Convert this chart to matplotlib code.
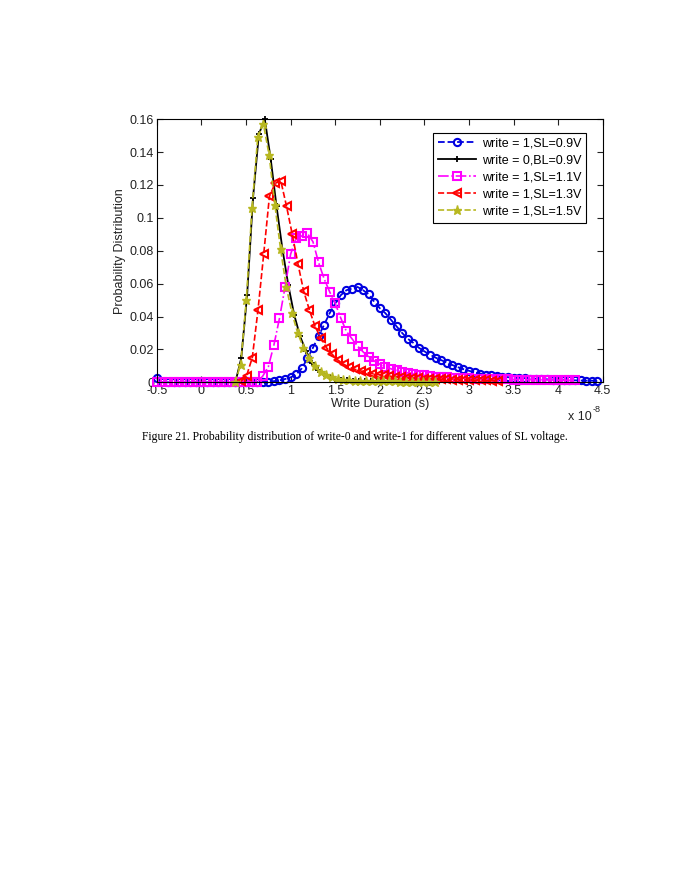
import numpy as np
import matplotlib
matplotlib.use("Agg")
from matplotlib import pyplot as plt
from matplotlib.ticker import FuncFormatter

plt.rcParams['font.family'] = ['Liberation Sans', 'DejaVu Sans']

# write duration grids (units of 1e-8 s): start, step
blue_x0, blue_dx = -0.5, 0.0625
mag_x0, mag_dx = -0.5, 0.0625
red_x0, red_dx = 0.442, 0.064
blk_x0, blk_dx = 0.38, 0.066
yel_x0, yel_dx = 0.375, 0.064

# write = 1, SL = 0.9V
blue_y = [0.0024] + [0.0] * 17 + [
    0.0001, 0.0002, 0.0004, 0.0007, 0.0012, 0.002, 0.003, 0.0048, 0.0085, 0.0145,
    0.021, 0.028, 0.035, 0.042, 0.048, 0.053, 0.056, 0.057, 0.058, 0.056,
    0.0535, 0.049, 0.045, 0.042, 0.038, 0.034, 0.030, 0.0265, 0.024, 0.021,
    0.0188, 0.0168, 0.015, 0.0135, 0.012, 0.0105, 0.0092, 0.008, 0.007, 0.006,
    0.0053, 0.0047, 0.0042, 0.0038, 0.0034, 0.0031, 0.0029, 0.0027, 0.0025, 0.0023,
    0.0021, 0.002, 0.0018, 0.0017, 0.0015, 0.0014, 0.0013, 0.0012, 0.0011, 0.001,
    0.001, 0.0009]

# write = 0, BL = 0.9V
blk_y = [0.0, 0.0146, 0.053, 0.112, 0.151, 0.160, 0.136, 0.107, 0.081, 0.059,
         0.041, 0.028, 0.019, 0.012, 0.0075, 0.0048, 0.0032, 0.0022, 0.0016, 0.0012,
         0.001, 0.0009, 0.0008, 0.0007, 0.0006, 0.0006, 0.0005, 0.0005, 0.0004, 0.0004,
         0.0004, 0.0003, 0.0003, 0.0003, 0.0003]

# write = 1, SL = 1.1V
mag_y = [0.0] * 19 + [
    0.0038, 0.0095, 0.0227, 0.039, 0.058, 0.078, 0.0876, 0.089, 0.0906, 0.0855,
    0.073, 0.063, 0.055, 0.048, 0.039, 0.031, 0.0265, 0.022, 0.0185, 0.0155,
    0.013, 0.011, 0.0095, 0.0082, 0.0072, 0.0064, 0.0057, 0.0051, 0.0046, 0.0042,
    0.0038, 0.0035, 0.0032, 0.003, 0.0028, 0.0026, 0.0025, 0.0024, 0.0023, 0.0022,
    0.0021, 0.002, 0.0019, 0.0018, 0.0018, 0.0017, 0.0017, 0.0016, 0.0016, 0.0015,
    0.0015, 0.0014, 0.0014, 0.0013, 0.0013, 0.0012, 0.0012]

# write = 1, SL = 1.3V
red_y = [0.0005, 0.004, 0.015, 0.044, 0.078, 0.113, 0.121, 0.1224, 0.107, 0.090,
         0.072, 0.0555, 0.044, 0.034, 0.027, 0.021, 0.017, 0.0135, 0.011, 0.0092,
         0.0079, 0.0069, 0.006, 0.0053, 0.0047, 0.0042, 0.0038, 0.0034, 0.0031, 0.0028,
         0.0026, 0.0024, 0.0022, 0.0021, 0.002, 0.0019, 0.0018, 0.0017, 0.0016, 0.0015,
         0.0014, 0.0013, 0.0012, 0.0011, 0.001, 0.001]

# write = 1, SL = 1.5V
yel_y = [0.0, 0.0105, 0.050, 0.106, 0.149, 0.157, 0.138, 0.108, 0.081, 0.058,
         0.042, 0.030, 0.021, 0.0145, 0.0098, 0.0065, 0.0044, 0.003, 0.0021, 0.0015,
         0.0012, 0.001, 0.0009, 0.0008, 0.0007, 0.0006, 0.0006, 0.0005, 0.0005, 0.0004,
         0.0004, 0.0004, 0.0003, 0.0003, 0.0003, 0.0003]

labels = ['write = 1,SL=0.9V', 'write = 0,BL=0.9V', 'write = 1,SL=1.1V',
          'write = 1,SL=1.3V', 'write = 1,SL=1.5V']
xticks = [-0.5, 0, 0.5, 1, 1.5, 2, 2.5, 3, 3.5, 4, 4.5]
yticks = [0, 0.02, 0.04, 0.06, 0.08, 0.1, 0.12, 0.14, 0.16]


def grid(x0, dx, ys):
    return x0 + dx * np.arange(len(ys))


fig = plt.figure(figsize=(6.85, 8.86), dpi=100)
ax = fig.add_axes([0.229, 0.5685, 0.651, 0.297])

ax.plot(grid(blue_x0, blue_dx, blue_y), blue_y, '--o', color='#0000e0', lw=1.3,
        ms=5.2, mfc='none', mew=1.5, label=labels[0], clip_on=False)
ax.plot(grid(blk_x0, blk_dx, blk_y), blk_y, '-+', color='black', lw=1.3,
        ms=5, mew=1.3, label=labels[1], clip_on=False)
ax.plot(grid(mag_x0, mag_dx, mag_y), mag_y, '-.s', color='#ff00ff', lw=1.2,
        ms=5.2, mfc='none', mew=1.5, label=labels[2], clip_on=False)
ax.plot(grid(red_x0, red_dx, red_y), red_y, '--<', color='#ff0000', lw=1.2,
        ms=6.2, mfc='none', mew=1.5, label=labels[3], clip_on=False)
ax.plot(grid(yel_x0, yel_dx, yel_y), yel_y, '--*', color='#b8b820', lw=1.2,
        ms=6.5, label=labels[4], clip_on=False)

ax.set_xlim(-0.5, 4.5)
ax.set_ylim(0, 0.16)
ax.set_xticks(xticks)
ax.set_yticks(yticks)
ax.xaxis.set_major_formatter(FuncFormatter(lambda v, p: '%g' % v))
ax.yaxis.set_major_formatter(FuncFormatter(lambda v, p: '%g' % v))
ax.tick_params(direction='in', length=4, width=0.8, labelsize=9,
               top=True, right=True, pad=2, colors='#222222')
for s in ax.spines.values():
    s.set_linewidth(0.8)

ax.set_xlabel('Write Duration (s)', fontsize=9, labelpad=1, color='#222222')
ax.set_ylabel('Probability Distribution', fontsize=9, labelpad=3, color='#222222')
ax.text(0.975, -0.13, 'x 10', transform=ax.transAxes, ha='right',
        va='center', fontsize=9, color='#222222')
ax.text(0.977, -0.105, '-8', transform=ax.transAxes, ha='left',
        va='center', fontsize=6.5, color='#222222')

leg = ax.legend(loc='upper right', bbox_to_anchor=(0.963, 0.949), borderaxespad=0,
                fontsize=9, handlelength=3.0, fancybox=False, edgecolor='black',
                framealpha=1, borderpad=0.4, labelspacing=0.4, handletextpad=0.5)
leg.get_frame().set_linewidth(0.8)

fig.text(0.518, 0.5065, 'Figure 21. Probability distribution of write-0 and write-1 '
         'for different values of SL voltage.', ha='center', va='center',
         fontsize=8.35, family=['Liberation Serif', 'DejaVu Serif'])

fig.savefig('out.png', dpi=100)
